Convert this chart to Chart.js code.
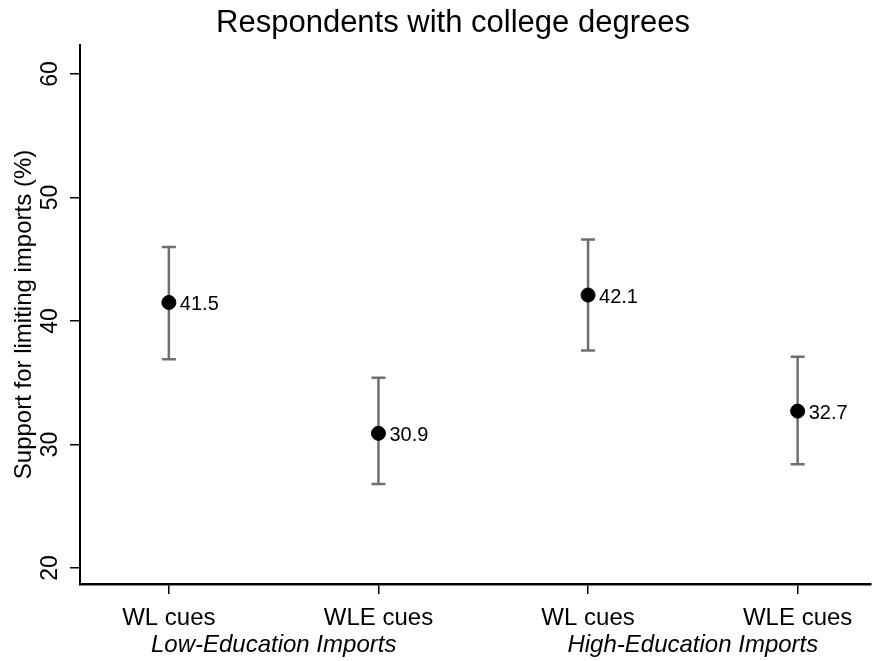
<!DOCTYPE html>
<html>
<head>
<meta charset="utf-8">
<script src="https://cdn.jsdelivr.net/npm/chart.js@4.4.0/dist/chart.umd.min.js"></script>
<style>
  html, body { margin: 0; padding: 0; background: #fff; }
  #wrap { width: 879px; height: 661px; }
</style>
</head>
<body>
<div id="wrap"><canvas id="cuesChart"></canvas></div>
<script>
// values
const categories = ['WL cues', 'WLE cues', 'WL cues', 'WLE cues'];
const groups = ['Low-Education Imports', 'High-Education Imports'];
const support = [41.5, 30.9, 42.1, 32.7];
const upper = [46.0, 35.4, 46.6, 37.1];
const lower = [36.9, 26.8, 37.6, 28.4];
const yTicks = [20, 30, 40, 50, 60];

const FONT = '"Liberation Sans", Arial, Helvetica, sans-serif';

// error bars, point labels, rotated y ticks, group labels, title
const extras = {
  id: 'extras',
  beforeDatasetsDraw(chart) {
    const { ctx, scales: { x, y } } = chart;
    ctx.save();
    ctx.strokeStyle = '#6e6e6e';
    ctx.lineWidth = 2.5;
    support.forEach((v, i) => {
      const px = x.getPixelForValue(i + 1);
      const top = y.getPixelForValue(upper[i]);
      const bot = y.getPixelForValue(lower[i]);
      ctx.beginPath();
      ctx.moveTo(px, top); ctx.lineTo(px, bot);
      ctx.moveTo(px - 7, top); ctx.lineTo(px + 7, top);
      ctx.moveTo(px - 7, bot); ctx.lineTo(px + 7, bot);
      ctx.stroke();
    });
    ctx.restore();
  },
  afterDatasetsDraw(chart) {
    const { ctx, scales: { x, y } } = chart;
    ctx.save();
    ctx.fillStyle = '#000';
    ctx.font = '20px ' + FONT;
    ctx.textAlign = 'left';
    ctx.textBaseline = 'middle';
    support.forEach((v, i) => {
      ctx.fillText(v.toFixed(1), x.getPixelForValue(i + 1) + 11, y.getPixelForValue(v) + 2);
    });

    // y tick labels, rotated like the original
    ctx.font = '23px ' + FONT;
    ctx.textAlign = 'center';
    yTicks.forEach(t => {
      ctx.save();
      ctx.translate(51, y.getPixelForValue(t));
      ctx.rotate(-Math.PI / 2);
      ctx.fillText(String(t), 0, 0);
      ctx.restore();
    });

    // group labels under each pair
    ctx.font = 'italic 24px ' + FONT;
    groups.forEach((g, k) => {
      const mid = (x.getPixelForValue(2 * k + 1) + x.getPixelForValue(2 * k + 2)) / 2;
      ctx.fillText(g, mid, 645);
    });

    ctx.font = '31px ' + FONT;
    ctx.fillText('Respondents with college degrees', 453, 23);
    ctx.restore();
  }
};

const chartData = {
  datasets: [{
    label: 'Support',
    data: support.map((v, i) => ({ x: i + 1, y: v })),
    backgroundColor: '#000',
    borderColor: '#000',
    pointRadius: 7,
    pointHoverRadius: 7,
  }],
};

const chartConfig = {
  type: 'scatter',
  data: chartData,
  options: {
    responsive: true,
    maintainAspectRatio: false,
    animation: false,
    layout: { padding: { top: 45, right: 0, left: 0, bottom: 0 } },
    plugins: {
      legend: { display: false },
      tooltip: { enabled: false },
    },
    scales: {
      x: {
        type: 'linear',
        min: 0.576,
        max: 4.35,
        afterBuildTicks: scale => { scale.ticks = categories.map((c, i) => ({ value: i + 1 })); },
        afterFit: scale => { scale.height = 77; },
        border: { color: '#000', width: 2.5 },
        grid: { drawOnChartArea: false, color: '#000', lineWidth: 1.5, tickLength: 10 },
        ticks: {
          color: '#000',
          font: { family: FONT, size: 24 },
          padding: 10,
          maxRotation: 0,
          autoSkip: false,
          callback: v => categories[v - 1],
        },
      },
      y: {
        min: 18.7,
        max: 62.35,
        afterBuildTicks: scale => { scale.ticks = yTicks.map(v => ({ value: v })); },
        afterFit: scale => { scale.width = 80; },
        border: { color: '#000', width: 2 },
        grid: { drawOnChartArea: false, color: '#000', lineWidth: 1.5, tickLength: 10 },
        ticks: { display: false },
        title: {
          display: true,
          text: 'Support for limiting imports (%)',
          color: '#000',
          font: { family: FONT, size: 24 },
          padding: { top: 10, bottom: 0 },
        },
      },
    },
  },
  plugins: [extras],
};

new Chart(document.getElementById('cuesChart').getContext('2d'), chartConfig);
</script>
</body>
</html>
